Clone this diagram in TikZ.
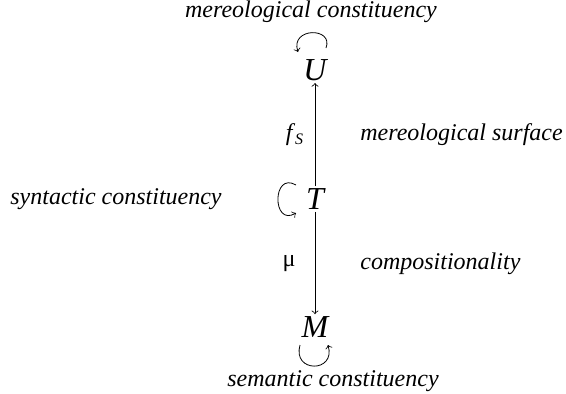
\documentclass[tikz,border=0pt]{standalone}
\usepackage{fontspec}
\setmainfont{Liberation Serif}
\usetikzlibrary{positioning}

\begin{document}
\begin{tikzpicture}[x=0.5pt, y=0.5pt,
    obj/.style={font=\fontsize{16}{18}\selectfont\itshape, inner sep=1pt},
    lbl/.style={font=\fontsize{12}{14}\selectfont\itshape, inner sep=0pt},
    maplbl/.style={font=\fontsize{12}{14}\selectfont, inner sep=0pt}]

  \useasboundingbox (0,0) rectangle (566,393);

  % Objects
  \node[obj] (U) at (315,323) {U};
  \node[obj] (T) at (315,194) {T};
  \node[obj] (M) at (315,66) {M};

  % Maps
  \draw[->] (T) -- (U);
  \draw[->] (T) -- (M);
  \node[maplbl] (fS) at (295,258) {\textit{f}\textsubscript{\textit{S}}};
  \node[maplbl] (mu) at (289,129) {μ};

  % Self loops
  \draw[->] ([shift={(11,22)}]U.center) .. controls ([shift={(19,43)}]U.center)
    and ([shift={(-25,43)}]U.center) .. ([shift={(-17,18)}]U.center);
  \draw[->] ([shift={(-19,14)}]T.center) .. controls ([shift={(-43,28)}]T.center)
    and ([shift={(-43,-28)}]T.center) .. ([shift={(-19,-14)}]T.center);
  \draw[->] ([shift={(-15,-18)}]M.center) .. controls ([shift={(-23,-46)}]M.center)
    and ([shift={(21,-46)}]M.center) .. ([shift={(13,-18)}]M.center);

  % Labels
  \node[lbl] (topcon) at (311,381) {mereological constituency};
  \node[lbl, anchor=east] (syncon) at (222,194) {syntactic constituency};
  \node[lbl, anchor=west] (surf) at (360,258) {mereological surface};
  \node[lbl, anchor=west] (comp) at (360,129) {compositionality};
  \node[lbl] (semcon) at (333,12) {semantic constituency};

\end{tikzpicture}
\end{document}
